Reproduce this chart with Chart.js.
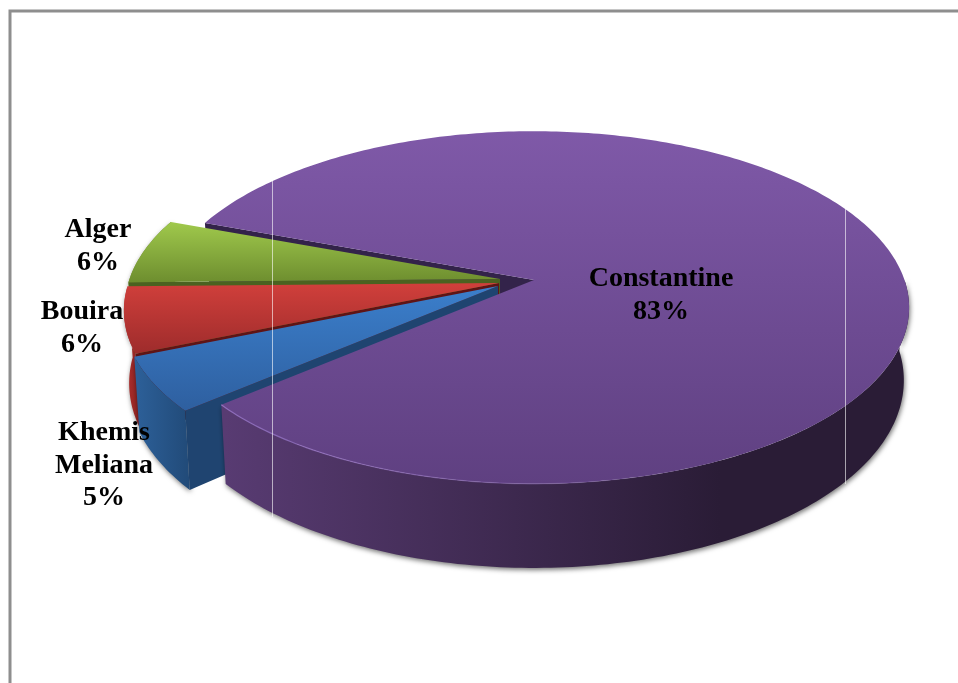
<!DOCTYPE html>
<html>
<head>
<meta charset="utf-8">
<script src="https://cdn.jsdelivr.net/npm/chart.js@4"></script>
<style>
  body { margin: 0; background: #fff; overflow: hidden; }
  canvas { display: block; }
</style>
</head>
<body>
<canvas id="grafico" width="958" height="683"></canvas>
<script>
// Dados
const categorias = ["Constantine", "Khemis Meliana", "Bouira", "Alger"];
const valores = [83, 5, 6, 6];

// Perspectiva do disco
const cx = 534, cy = 280, A = 370.5, B = 172, K = 0.156, D = 71;

// Estilo de cada fatia, na ordem das categorias
const deslocamento = [[0, 0], [-36, 6], [-35, 3], [-34, -1]];
const topoCor = [
  ["#7f59a8", "#5f4081", 131, 484],
  ["#3b7fcc", "#2e5f9f", 285, 412],
  ["#d03f3b", "#9c2b2b", 284, 356],
  ["#a0c94c", "#6c8c2e", 222, 284]
];
const paredeCor = [
  ["#583b72", "#2a1c36", 225, 720],
  ["#2d6099", "#214a78", 135, 190],
  ["#b02e2c", "#8c2322", 125, 140],
  ["#7d9c35", "#5d7828", 125, 175]
];
const corteCor = ["#33234a", "#1f4470", "#5f1415", "#4b6220"];
const posRotulos = [[661, 279], [104, 433], [82, 312], [98, 230]];
const alturaLinha = 32.5;

function projeta(ang, h, d) {
  const u = Math.cos(ang), v = Math.sin(ang), w = 1 - K * v;
  return [
    cx + d[0] + A * u / w * (1 - 0.014 * h),
    cy + d[1] + B * v / w + h * D / w
  ];
}

function arco(ini, fim, h, d) {
  const pts = [];
  const n = Math.max(8, Math.ceil((fim - ini) * 60));
  for (let i = 0; i <= n; i++) {
    pts.push(projeta(ini + (fim - ini) * i / n, h, d));
  }
  return pts;
}

function preenche(ctx, pts, cor) {
  ctx.beginPath();
  pts.forEach((p, i) => i ? ctx.lineTo(p[0], p[1]) : ctx.moveTo(p[0], p[1]));
  ctx.closePath();
  ctx.fillStyle = cor;
  ctx.fill();
}

function gradiente(ctx, c, vertical) {
  const g = vertical
    ? ctx.createLinearGradient(0, c[2], 0, c[3])
    : ctx.createLinearGradient(c[2], 0, c[3], 0);
  g.addColorStop(0, c[0]);
  g.addColorStop(1, c[1]);
  return g;
}

function comSombra(ctx, fn) {
  ctx.save();
  ctx.shadowColor = "rgba(0,0,0,0.55)";
  ctx.shadowBlur = 5;
  ctx.shadowOffsetX = 1;
  ctx.shadowOffsetY = 2;
  fn();
  ctx.restore();
}

const pizza3d = {
  id: "pizza3d",
  beforeDraw(chart) {
    const ctx = chart.ctx;
    ctx.save();
    ctx.strokeStyle = "#8e8e8e";
    ctx.lineWidth = 3;
    ctx.beginPath();
    ctx.moveTo(10, 683);
    ctx.lineTo(10, 11);
    ctx.lineTo(958, 11);
    ctx.stroke();
    ctx.restore();
  },
  beforeDatasetsDraw(chart) {
    const ctx = chart.ctx;
    const fatias = chart.getDatasetMeta(0).data;
    ctx.save();

    // corte superior da fatia grande, fica atras das outras
    const g = fatias[0];
    const a0 = projeta(g.startAngle, 0, [0, 0]);
    preenche(ctx, [[cx, cy], a0, projeta(g.startAngle, 1, [0, 0]), [cx, cy + D]], corteCor[0]);

    // fatias pequenas, de tras para frente
    [3, 2, 1].forEach(i => {
      const f = fatias[i], d = deslocamento[i];
      const apice = [cx + d[0], cy + d[1]];
      const apiceB = [apice[0], apice[1] + D];
      const topo = arco(f.startAngle, f.endAngle, 0, d);
      const base = arco(f.startAngle, f.endAngle, 1, d).reverse();
      comSombra(ctx, () => preenche(ctx, topo.concat(base), gradiente(ctx, paredeCor[i], false)));
      preenche(ctx, [apice, topo[0], projeta(f.startAngle, 1, d), apiceB], corteCor[i]);
      preenche(ctx, [apice].concat(topo), gradiente(ctx, topoCor[i], true));
    });

    // fatia grande por cima; a parede so aparece na frente
    const frente = 2 * Math.PI;
    const topoG = arco(g.startAngle, g.endAngle, 0, [0, 0]);
    const paredeTopo = arco(frente, g.endAngle, 0, [0, 0]);
    const paredeBase = arco(frente, g.endAngle, 1, [0, 0]).reverse();
    comSombra(ctx, () => preenche(ctx, paredeTopo.concat(paredeBase), gradiente(ctx, paredeCor[0], false)));
    preenche(ctx, [[cx, cy]].concat(topoG), gradiente(ctx, topoCor[0], true));

    // brilho na borda da frente
    const brilho = ctx.createLinearGradient(225, 0, 720, 0);
    brilho.addColorStop(0, "rgba(150,115,195,0.9)");
    brilho.addColorStop(1, "rgba(150,115,195,0)");
    ctx.beginPath();
    paredeTopo.forEach((p, i) => i ? ctx.lineTo(p[0], p[1]) : ctx.moveTo(p[0], p[1]));
    ctx.strokeStyle = brilho;
    ctx.lineWidth = 1.2;
    ctx.stroke();

    // linhas claras verticais
    ctx.strokeStyle = "rgba(255,255,255,0.6)";
    ctx.lineWidth = 1;
    [[272.5, 180, 517], [845.5, 209, 484]].forEach(l => {
      ctx.beginPath();
      ctx.moveTo(l[0], l[1]);
      ctx.lineTo(l[0], l[2]);
      ctx.stroke();
    });

    // rotulos
    ctx.fillStyle = "#000";
    ctx.font = "bold 28px 'Liberation Serif'";
    ctx.textAlign = "center";
    ctx.textBaseline = "middle";
    categorias.forEach((nome, i) => {
      const linhas = nome.split(" ");
      linhas.push(valores[i] + "%");
      linhas.forEach((t, j) => {
        ctx.fillText(t, posRotulos[i][0], posRotulos[i][1] + j * alturaLinha);
      });
    });
    ctx.restore();
    return false;
  }
};

new Chart(document.getElementById("grafico").getContext("2d"), {
  type: "pie",
  data: {
    labels: categorias,
    datasets: [{ data: valores, backgroundColor: topoCor.map(c => c[0]) }]
  },
  options: {
    responsive: false,
    animation: false,
    rotation: 290.5,
    plugins: {
      legend: { display: false },
      tooltip: { enabled: false }
    }
  },
  plugins: [pizza3d]
});
</script>
</body>
</html>
